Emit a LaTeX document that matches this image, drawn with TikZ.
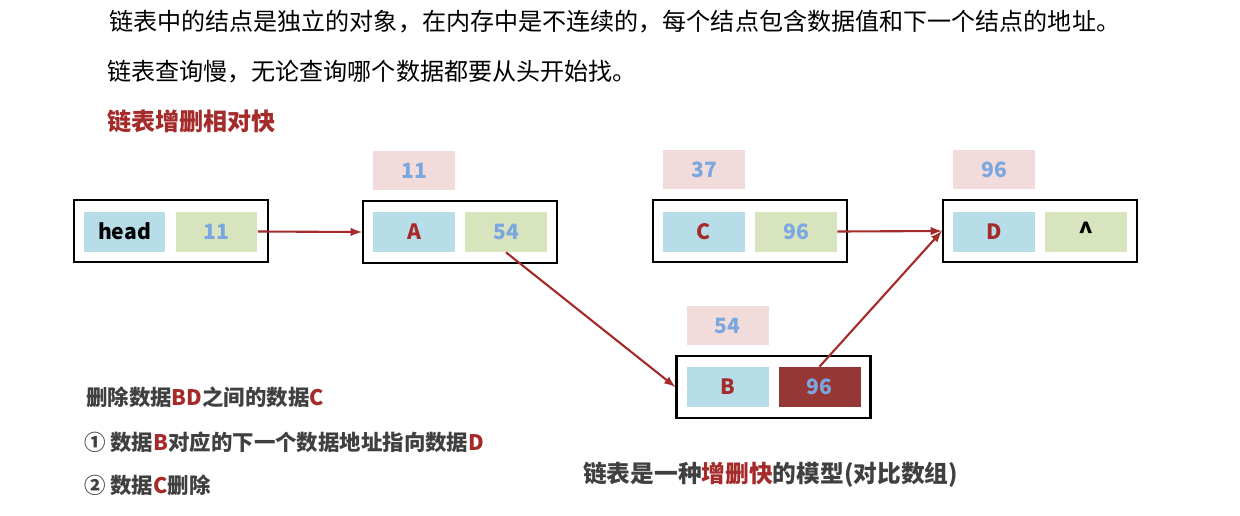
\documentclass[tikz,border=0pt]{standalone}
\usepackage{fontspec}
\setmainfont{Noto Sans CJK SC}
\usetikzlibrary{positioning}
\definecolor{cellblue}{HTML}{B7DDE8}
\definecolor{cellgreen}{HTML}{D7E4BD}
\definecolor{cellpink}{HTML}{F2DCDB}
\definecolor{txtblue}{HTML}{7BA7E0}
\definecolor{darkred}{HTML}{A52A2A}
\definecolor{cellred}{HTML}{953735}
\definecolor{txtgray}{HTML}{404040}
\tikzset{
	every node/.style = {font=\fontsize{12pt}{14pt}\selectfont\bfseries},
	cell/.style = {minimum width=1.64cm, minimum height=0.8cm, inner sep=0pt},
	outer/.style = {draw, line width=1.3pt, minimum width=3.88cm, minimum height=1.25cm, inner sep=0pt},
	addr/.style = {cell, fill=cellpink, text=txtblue, minimum height=0.78cm},
	link/.style = {-latex, line width=1.2pt, darkred}
}
\begin{document}
\begin{tikzpicture}[x=0.02cm, y=-0.02cm]
		\useasboundingbox (0,0) rectangle (1240,515);
		% text
		\node[anchor=west, font=\fontsize{13.7pt}{15pt}\selectfont] (t1) at (103,22) {链表中的结点是独立的对象，在内存中是不连续的，每个结点包含数据值和下一个结点的地址。};
		\node[anchor=west, font=\fontsize{13.7pt}{15pt}\selectfont] (t2) at (101,72) {链表查询慢，无论查询哪个数据都要从头开始找。};
		\node[anchor=west, text=darkred, font=\fontsize{13.7pt}{15pt}\selectfont\bfseries] (t3) at (101,121) {链表增删相对快};
		% boxes
		\node[outer] (headbox) at (171,231) {};
		\node[cell, fill=cellblue] (head) at (124.5,231.5) {head};
		\node[cell, fill=cellgreen, text=txtblue] (head11) at (216.5,231.5) {11};
		
		\node[outer] (Abox) at (460,232) {};
		\node[cell, fill=cellblue, text=darkred] (A) at (414,232) {A};
		\node[cell, fill=cellgreen, text=txtblue] (A54) at (506,232) {54};
		\node[addr] (Aaddr) at (414,170.5) {11};
		
		\node[outer] (Cbox) at (750,231) {};
		\node[cell, fill=cellblue, text=darkred] (C) at (704,231.5) {C};
		\node[cell, fill=cellgreen, text=txtblue] (C96) at (796,231.5) {96};
		\node[addr] (Caddr) at (704,169.5) {37};
		
		\node[outer] (Dbox) at (1040,231) {};
		\node[cell, fill=cellblue, text=darkred] (D) at (994,231.5) {D};
		\node[cell, fill=cellgreen] (Dnull) at (1086,231.5) {\Large\textasciicircum};
		\node[addr] (Daddr) at (994,169.5) {96};
		
		\node[outer] (Bbox) at (773.5,387) {};
		\node[cell, fill=cellblue, text=darkred] (B) at (728,387) {B};
		\node[cell, fill=cellred, text=txtblue] (B96) at (819.5,387) {96};
		\node[addr] (Baddr) at (727.5,325.5) {54};
		% links
		\draw[link] (head11.east) -- (Abox.west);
		\draw[link] (A54.south) -- (Bbox.west);
		\draw[link] (C96.east) -- (Dbox.west);
		\draw[link] (B96.north) -- (Dbox.west);
		% notes
		\node[anchor=west, text=txtgray, font=\fontsize{12.2pt}{14pt}\selectfont\bfseries] (n1) at (80,397) {删除数据\textcolor{darkred}{BD}之间的数据\textcolor{darkred}{C}};
		\node[anchor=west, text=txtgray, font=\fontsize{12.2pt}{14pt}\selectfont\bfseries] (n2) at (78,442) {① 数据\textcolor{darkred}{B}对应的下一个数据地址指向数据\textcolor{darkred}{D}};
		\node[anchor=west, text=txtgray, font=\fontsize{12.2pt}{14pt}\selectfont\bfseries] (n3) at (78,485) {② 数据\textcolor{darkred}{C}删除};
		\node[anchor=west, text=txtgray, font=\fontsize{13.5pt}{15pt}\selectfont\bfseries] (n4) at (577,475) {链表是一种\textcolor{darkred}{增删快}的模型(对比数组)};
	\end{tikzpicture}
\end{document}
